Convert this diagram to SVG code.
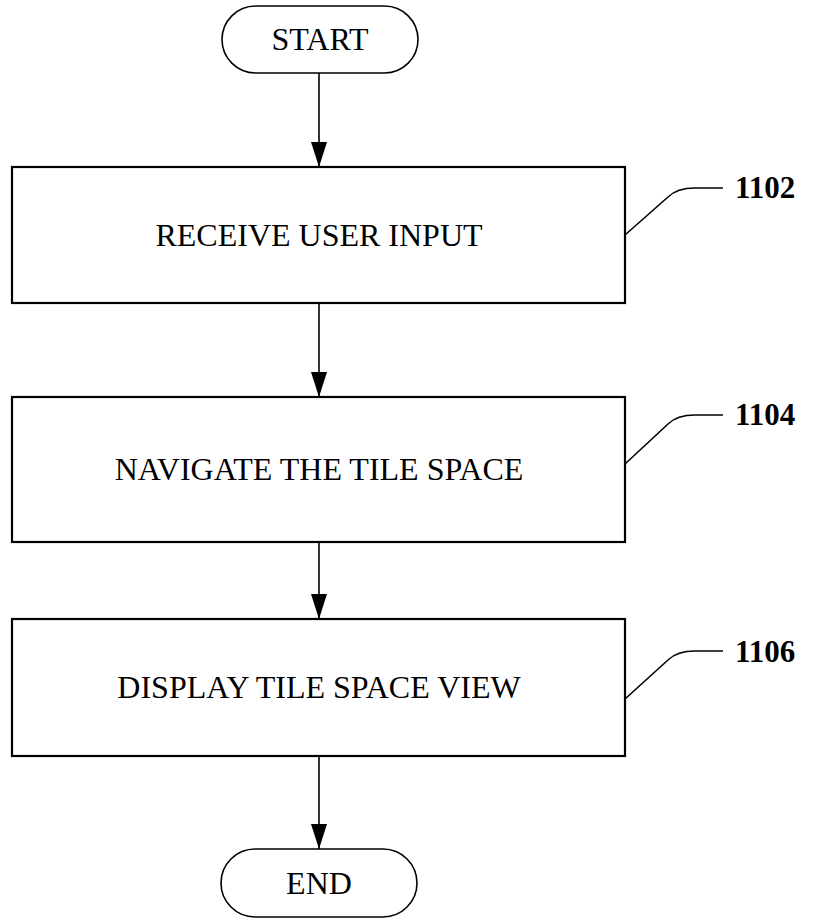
<svg xmlns="http://www.w3.org/2000/svg" width="822" height="920" viewBox="0 0 822 920">
  <style>
    .term { fill: #fff; stroke: #000; stroke-width: 1.6; }
    .box { fill: #fff; stroke: #000; stroke-width: 2.2; }
    .txt { font-family: "Liberation Serif", "Times New Roman", serif; font-size: 32px; fill: #000; text-anchor: middle; }
    .ref { font-family: "Liberation Serif", "Times New Roman", serif; font-size: 31px; font-weight: bold; fill: #000; }
    .conn { stroke: #000; stroke-width: 1.6; fill: none; }
    .lead { stroke: #000; stroke-width: 1.6; fill: none; }
  </style>
  <defs>
    <!-- solid arrowhead, drawn along +x so orient="auto" points it down the line -->
    <marker id="arrow" markerUnits="userSpaceOnUse" markerWidth="26" markerHeight="18" refX="25" refY="8" orient="auto" viewBox="0 0 26 16">
      <path d="M0,0 L25,8 L0,16 Z" fill="#000"/>
    </marker>
  </defs>
  <rect width="822" height="920" fill="#fff"/>

  <!-- flow connectors -->
  <g id="connectors">
    <line class="conn" x1="319" y1="73" x2="319" y2="167" marker-end="url(#arrow)"/>
    <line class="conn" x1="319" y1="303" x2="319" y2="397" marker-end="url(#arrow)"/>
    <line class="conn" x1="319" y1="542" x2="319" y2="619" marker-end="url(#arrow)"/>
    <line class="conn" x1="319" y1="756" x2="319" y2="849" marker-end="url(#arrow)"/>
  </g>

  <g id="start">
    <rect class="term" x="222" y="6" width="196" height="67" rx="33.5" ry="33.5"/>
    <text class="txt" x="320" y="50">START</text>
  </g>

  <g id="step-1102">
    <rect class="box" x="12" y="167" width="613" height="136"/>
    <text class="txt" x="319" y="246">RECEIVE USER INPUT</text>
    <path class="lead" d="M625,235 L668,197 Q677,188 695,188 L723,188"/>
    <text class="ref" x="735" y="198">1102</text>
  </g>

  <g id="step-1104">
    <rect class="box" x="12" y="397" width="613" height="145"/>
    <text class="txt" x="319" y="480">NAVIGATE THE TILE SPACE</text>
    <path class="lead" d="M625,464 L668,424 Q677,415 695,415 L723,415"/>
    <text class="ref" x="735" y="425">1104</text>
  </g>

  <g id="step-1106">
    <rect class="box" x="12" y="619" width="613" height="137"/>
    <text class="txt" x="319" y="698">DISPLAY TILE SPACE VIEW</text>
    <path class="lead" d="M625,699 L668,660 Q677,651 695,651 L723,651"/>
    <text class="ref" x="735" y="662">1106</text>
  </g>

  <g id="end">
    <rect class="term" x="221" y="849" width="196" height="68" rx="34" ry="34"/>
    <text class="txt" x="319" y="894">END</text>
  </g>
</svg>
